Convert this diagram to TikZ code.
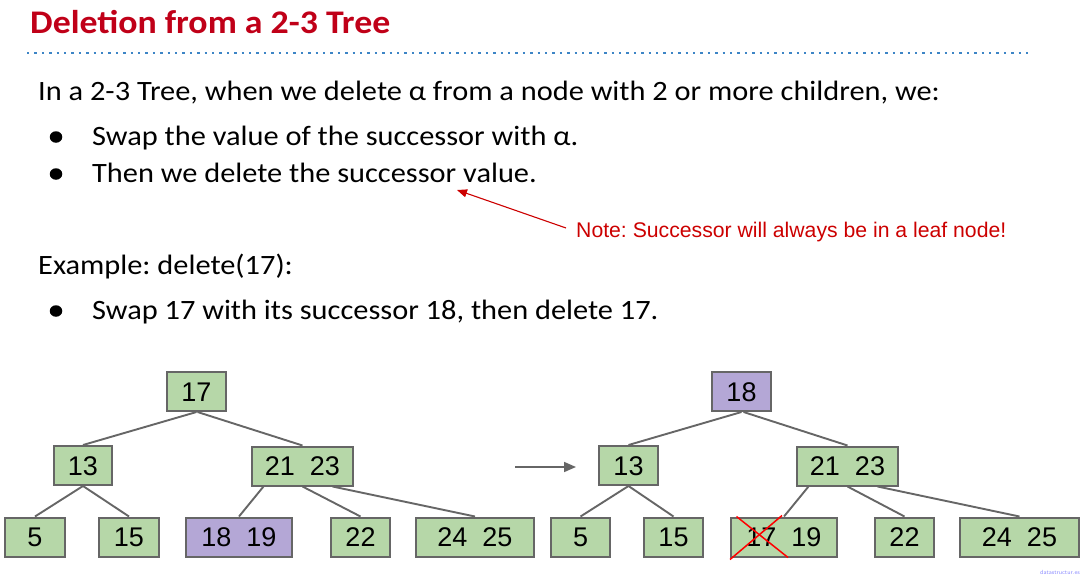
\documentclass[tikz,border=0pt]{standalone}
\usepackage{fontspec}
\setmainfont{Carlito}[FakeStretch=1.085]
\newfontfamily\arialfont{Liberation Sans}
\usetikzlibrary{arrows.meta,calc,shapes.geometric}
\frenchspacing

\definecolor{titlered}{HTML}{C00018}
\definecolor{notered}{HTML}{CC0000}
\definecolor{rulerblue}{HTML}{3D85C6}
\definecolor{boxgreen}{HTML}{B6D7A8}
\definecolor{boxpurple}{HTML}{B4A7D6}
\definecolor{edgegray}{HTML}{666666}

\tikzset{
  tnode/.style={draw=edgegray, line width=2pt, fill=boxgreen, inner sep=0pt,
    minimum height=39pt, text height=19.5pt, text depth=0pt,
    font=\arialfont\fontsize{27}{27}\selectfont},
  hinode/.style={tnode, fill=boxpurple},
  tedge/.style={draw=edgegray, line width=1.9pt},
  bodytext/.style={anchor=base west, inner sep=0pt, font=\fontsize{28}{30}\selectfont},
  bulletdot/.style={ellipse, fill=black, inner sep=0pt, minimum width=12.5pt, minimum height=11.5pt},
}

\begin{document}
\begin{tikzpicture}[x=1pt, y=-1pt]
\useasboundingbox (0,0) rectangle (1091,575);

% heading and rule
\node[anchor=base west, inner sep=0pt, text=titlered,
      font=\bfseries\fontsize{33}{33}\selectfont] (title) at (30,34) {Deletion from a 2-3 Tree};
\draw[rulerblue, line width=2.4pt, dash pattern=on 2.4pt off 5pt] (27,53) -- (1031,53);

% explanatory text
\node[bodytext] (intro) at (38,101) {In a 2-3 Tree, when we delete α from a node with 2 or more children, we:};
\node[bulletdot] (b1) at (56,137) {};
\node[bodytext] (swap) at (92,145) {Swap the value of the successor with α.};
\node[bulletdot] (b2) at (56,174) {};
\node[bodytext] (then) at (92,182) {Then we delete the successor value.};

% side note pointing at the successor
\node[anchor=base west, inner sep=0pt, text=notered,
      font=\arialfont\fontsize{21.2}{21.2}\selectfont] (note) at (576,237) {Note: Successor will always be in a leaf node!};
\coordinate (notetail) at (566,228);
\coordinate (succ) at (457,190);
\draw[notered, line width=1.1pt, -{Triangle[length=10pt,width=8pt]}] (notetail) -- (succ);

\node[bodytext] (example) at (38,274) {Example: delete(17):};
\node[bulletdot] (b3) at (56,311) {};
\node[bodytext] (swapex) at (92,319) {Swap 17 with its successor 18, then delete 17.};

% tree before the swap
\node[tnode, minimum width=59pt] (L17) at (196.5,391.5) {17};
\node[tnode, minimum width=58pt] (L13) at (83,465.5) {13};
\node[tnode, minimum width=101pt] (L2123) at (302.5,466) {21\ \ 23};
\node[tnode, minimum width=60pt] (L5) at (35,537) {5};
\node[tnode, minimum width=60pt] (L15) at (129,537) {15};
\node[hinode, minimum width=106pt] (L1819) at (239,537) {18\ \ 19};
\node[tnode, minimum width=59pt] (L22) at (360.5,537) {22};
\node[tnode, minimum width=118pt] (L2425) at (475,537) {24\ \ 25};

\draw[tedge] (L17.south) -- (L13.north);
\draw[tedge] ([xshift=1pt]L17.south) -- (L2123.north);
\draw[tedge] (L13.south) -- (L5.north);
\draw[tedge] (L13.south) -- (L15.north);
\draw[tedge] ([xshift=-39pt]L2123.south) -- (L1819.north);
\draw[tedge] (L2123.south) -- (L22.north);
\draw[tedge] ([xshift=30pt]L2123.south) -- (L2425.north);

% transition arrow
\coordinate (arrfrom) at (515,467);
\coordinate (arrto) at (576,467);
\draw[edgegray, line width=1.7pt, -{Triangle[length=12pt,width=10pt]}] (arrfrom) -- (arrto);

% tree after the swap
\node[hinode, minimum width=59pt] (R18) at (741.5,391.5) {18};
\node[tnode, minimum width=59pt] (R13) at (628.5,465.5) {13};
\node[tnode, minimum width=101pt] (R2123) at (847.5,466) {21\ \ 23};
\node[tnode, minimum width=59pt] (R5) at (580.5,537) {5};
\node[tnode, minimum width=59pt] (R15) at (673.5,537) {15};
\node[tnode, minimum width=106pt] (R1719) at (784,537) {17\ \ 19};
\node[tnode, minimum width=59pt] (R22) at (904.5,537) {22};
\node[tnode, minimum width=119pt] (R2425) at (1019.5,537) {24\ \ 25};

\draw[tedge] (R18.south) -- (R13.north);
\draw[tedge] ([xshift=2pt]R18.south) -- (R2123.north);
\draw[tedge] (R13.south) -- (R5.north);
\draw[tedge] (R13.south) -- (R15.north);
\draw[tedge] ([xshift=-39pt]R2123.south) -- (R1719.north);
\draw[tedge] (R2123.south) -- (R22.north);
\draw[tedge] ([xshift=30pt]R2123.south) -- (R2425.north);

% the deleted key is crossed out
\draw[red, line width=1.5pt] ($(R1719.north west)+(6.5,0)$) -- ($(R1719.south west)+(58,0)$);
\draw[red, line width=1.5pt] ($(R1719.south west)+(0,2)$) -- ($(R1719.north west)+(52,-1)$);

% source credit in the corner
\node[anchor=base west, inner sep=0pt, text=blue!45, font=\sffamily\fontsize{6}{6}\selectfont] (credit) at (1040,574) {datastructur.es};
\end{tikzpicture}
\end{document}
